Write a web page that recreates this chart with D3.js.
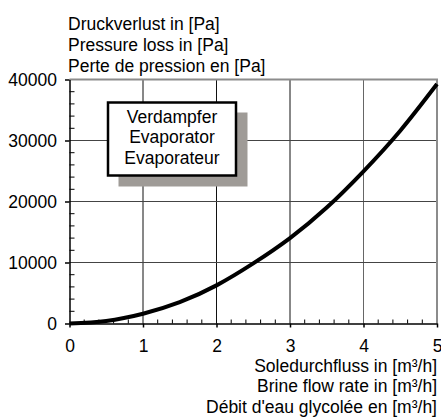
<!DOCTYPE html>
<html>
<head>
<meta charset="utf-8">
<script src="https://cdn.jsdelivr.net/npm/d3@7"></script>
<style>
	body { margin: 0; background: #fff; }
	svg { display: block; font-family: "Liberation Sans", Arial, sans-serif; }
</style>
</head>
<body>
<div id="chart"></div>
<script>
// flow rate in m3/h
const flow = [0, 0.5, 1, 1.5, 2, 2.5, 3, 3.5, 4, 4.5, 5];
// pressure loss in Pa
const pressure = [0, 420, 1600, 3500, 6250, 9850, 14000, 19000, 24950, 31600, 39250];
const xTicks = [0, 1, 2, 3, 4, 5];
const yTicks = [0, 10000, 20000, 30000, 40000];
const yTitle = ["Druckverlust in [Pa]", "Pressure loss in [Pa]", "Perte de pression en [Pa]"];
const xTitle = ["Soledurchfluss in [m³/h]", "Brine flow rate in [m³/h]", "Débit d'eau glycolée en [m³/h]"];
const legendLines = ["Verdampfer", "Evaporator", "Evaporateur"];

const fs = "17.5px";
const margin = { top: 79.5, right: 4, bottom: 93.5, left: 69.5 };
const W = 441, H = 417;
const width = W - margin.left - margin.right;
const height = H - margin.top - margin.bottom;

const svg = d3.select("#chart").append("svg").attr("width", W).attr("height", H);
const g = svg.append("g").attr("transform", `translate(${margin.left}, ${margin.top})`);

const x = d3.scaleLinear().domain([0, 5]).range([0, width]);
const y = d3.scaleLinear().domain([0, 40000]).range([height, 0]);

// grid
g.selectAll(".vgrid").data(xTicks.slice(1, -1)).join("line")
	.attr("x1", (d) => x(d)).attr("x2", (d) => x(d))
	.attr("y1", 0).attr("y2", height)
	.style("stroke", (d) => (d === 4 ? "#666" : "#111")).style("stroke-width", 1);
g.selectAll(".hgrid").data(yTicks.slice(1, -1)).join("line")
	.attr("x1", 0).attr("x2", width)
	.attr("y1", (d) => y(d)).attr("y2", (d) => y(d))
	.style("stroke", "#444").style("stroke-width", 1);

// top and right border
g.append("path")
	.attr("d", `M0,${y(40000)}H${x(5)}V${y(0)}`)
	.style("fill", "none").style("stroke", "#8c8c8c").style("stroke-width", 2);

// legend box with shadow
g.append("rect").attr("x", 49).attr("y", 33).attr("width", 129).attr("height", 74).style("fill", "#9f9b97");
g.append("rect").attr("x", 38.5).attr("y", 23).attr("width", 128).attr("height", 73)
	.style("fill", "#fff").style("stroke", "#000").style("stroke-width", 2.5);
g.selectAll(".leg").data(legendLines).join("text")
	.attr("x", 102.5).attr("y", (d, i) => 43 + i * 20.5)
	.attr("text-anchor", "middle").style("font-size", fs).text((d) => d);

// curve
const line = d3.line().x((d, i) => x(flow[i])).y((d) => y(d)).curve(d3.curveNatural);
g.append("path").datum(pressure).attr("d", line)
	.style("fill", "none").style("stroke", "#000").style("stroke-width", 4).style("stroke-linecap", "butt");

// axes
const yAxis = g.append("g").call(d3.axisLeft(y).tickValues(yTicks).tickSize(4.5).tickSizeOuter(0).tickPadding(8).tickFormat(d3.format("d")));
yAxis.selectAll("text").style("font-size", fs).style("fill", "#000");
yAxis.select(".domain").style("stroke-width", 1.5);
yAxis.selectAll(".tick line").style("stroke-width", 1.5);
const yMinor = d3.range(0, 40001, 2000).filter((v) => v % 10000 !== 0);
g.selectAll(".yminor").data(yMinor).join("line")
	.attr("x1", 0).attr("x2", 5).attr("y1", (d) => y(d)).attr("y2", (d) => y(d))
	.style("stroke", "#000").style("stroke-width", 1);

const xAxis = g.append("g").attr("transform", `translate(0, ${height})`)
	.call(d3.axisBottom(x).tickValues(xTicks).tickSize(4).tickSizeOuter(0).tickPadding(12).tickFormat(d3.format("d")));
xAxis.selectAll("text").style("font-size", fs).style("fill", "#000");
xAxis.select(".domain").style("stroke-width", 1.5);
xAxis.selectAll(".tick line").style("stroke-width", 1.5);
const xMinor = d3.range(0.2, 5, 0.2).filter((v) => Math.abs(v - Math.round(v)) > 0.01);
g.selectAll(".xminor").data(xMinor).join("line")
	.attr("x1", (d) => x(d)).attr("x2", (d) => x(d)).attr("y1", height).attr("y2", height - 4)
	.style("stroke", "#000").style("stroke-width", 1);

// axis titles
svg.selectAll(".ytitle").data(yTitle).join("text")
	.attr("x", 68).attr("y", (d, i) => 29.5 + i * 21)
	.style("font-size", fs).text((d) => d);
svg.selectAll(".xtitle").data(xTitle).join("text")
	.attr("x", 437).attr("y", (d, i) => 371.5 + i * 20.5)
	.attr("text-anchor", "end").style("font-size", fs).text((d) => d);
</script>
</body>
</html>
